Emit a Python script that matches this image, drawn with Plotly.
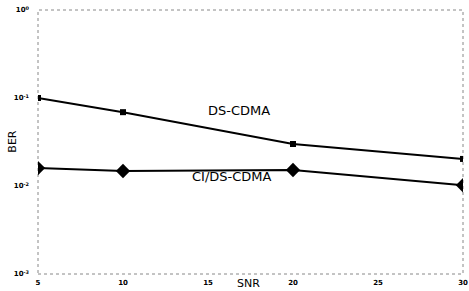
import plotly.graph_objects as go

snr = [5, 10, 20, 30]
ber_ds_cdma = [0.100, 0.069, 0.030, 0.0203]
ber_ci_ds_cdma = [0.0160, 0.0148, 0.0152, 0.0102]

x_ticks = [5, 10, 15, 20, 25, 30]
x_tick_text = ["5", "10", "15", "20", "25", "30"]
y_ticks = [1, 0.1, 0.01, 0.001]
y_tick_text = ["10<sup>0</sup>", "10<sup>-1</sup>", "10<sup>-2</sup>", "10<sup>-3</sup>"]

fig = go.Figure()
fig.add_trace(go.Scatter(
    x=snr, y=ber_ds_cdma, mode="lines+markers", name="DS-CDMA",
    line=dict(color="black", width=2),
    marker=dict(symbol="square", size=6, color="black"),
))
fig.add_trace(go.Scatter(
    x=snr, y=ber_ci_ds_cdma, mode="lines+markers", name="CI/DS-CDMA",
    line=dict(color="black", width=2),
    marker=dict(symbol="diamond", size=11, color="black"),
))

# dotted frame
fig.add_shape(type="rect", xref="paper", yref="paper", x0=0, y0=0, x1=1, y1=1,
              line=dict(color="#888888", width=1, dash="dot"), layer="below")

fig.add_annotation(text="DS-CDMA", xref="paper", yref="paper", x=0.472, y=0.621,
                   showarrow=False, font=dict(family="DejaVu Sans", size=13, color="black"))
fig.add_annotation(text="CI/DS-CDMA", xref="paper", yref="paper", x=0.456, y=0.333,
                   showarrow=False, font=dict(family="DejaVu Sans", size=13, color="black"))
# axis titles
fig.add_annotation(text="SNR", xref="paper", yref="paper", x=0.495, y=-0.036,
                   yanchor="middle", showarrow=False,
                   font=dict(family="DejaVu Sans", size=11, color="black"))
fig.add_annotation(text="BER", xref="paper", yref="paper", x=-0.062, y=0.5,
                   textangle=-90, xanchor="center", showarrow=False,
                   font=dict(family="DejaVu Sans", size=11, color="black"))

fig.update_layout(
    width=469, height=291,
    margin=dict(l=38, r=6, t=10, b=17),
    paper_bgcolor="white", plot_bgcolor="white",
    showlegend=False,
    font=dict(family="DejaVu Sans", color="black"),
    xaxis=dict(range=[5, 30], tickvals=x_ticks, ticktext=x_tick_text,
               showgrid=False, zeroline=False, showline=False, automargin=False,
               tickfont=dict(size=7, family="DejaVu Sans", weight="bold"),
               ticks="", ticklabelstandoff=3, ticklabeloverflow="allow"),
    yaxis=dict(type="log", range=[-3, 0], tickvals=y_ticks, ticktext=y_tick_text,
               showgrid=False, zeroline=False, showline=False, automargin=False,
               tickfont=dict(size=7, family="DejaVu Sans", weight="bold"),
               ticks="", ticklabelstandoff=8, ticklabeloverflow="allow"),
)

fig.write_html("out.html", config={"displayModeBar": False},
               post_script="document.body.style.margin='0';document.body.style.overflow='hidden';")
